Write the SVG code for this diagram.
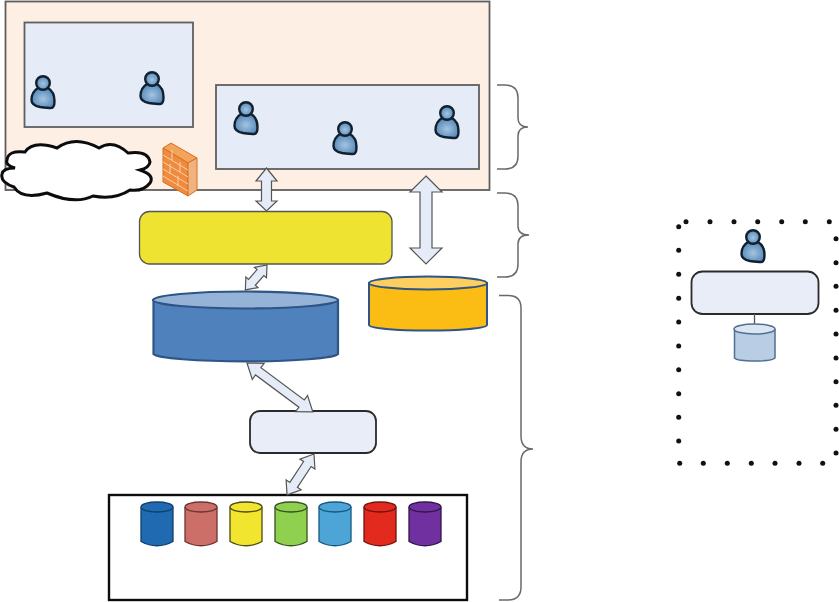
<svg xmlns="http://www.w3.org/2000/svg" width="839" height="602" viewBox="0 0 839 602">
<style>
.panel{fill:#e6ecf7;stroke:#5f5f5f;stroke-width:1.800}
.arrow{fill:#e6ecf7;stroke:#555;stroke-width:1.200;stroke-linejoin:miter}
.brace{fill:none;stroke:#6a6a6a;stroke-width:1.500}
.rr{fill:#e9edf8;stroke:#2b2b2b;stroke-width:1.800}
.dot{fill:#111}
.pbody{fill:url(#pg);stroke:#10202e;stroke-width:2.400;stroke-linejoin:round}
.cyl{stroke-width:1.300}
</style>
<defs>
<radialGradient id="pg" cx="50%" cy="55%" r="60%"><stop offset="0" stop-color="#a4c4e2"/><stop offset="1" stop-color="#4d82b2"/></radialGradient>
<g id="person">
<path class="pbody" d="M-5 5C-10 8-11.500 13-11.500 17C-11.500 21-8 23-3 24C1 24.500 6 25 8 25C11 25 11.500 22 11.500 18C11.500 13 10 8 5 5Z"/>
<circle class="pbody" cx="0" cy="0" r="6.800"/>
</g>
<g id="db">
<path class="cyl" d="M-16 -36V-1.500Q0 7 16 -1.500V-36"/>
<ellipse class="cyl" cx="0" cy="-36" rx="16" ry="5"/>
</g>
</defs>
<rect width="839" height="602" fill="#fff"/>

<g id="tier-outer"><rect x="5.500" y="1.500" width="484" height="188.500" fill="#fdefe4" stroke="#5f5f5f" stroke-width="1.800"/></g>
<g id="panel-left"><rect class="panel" x="24.500" y="22.500" width="168.500" height="104.500"/>
<use href="#person" x="43" y="83"/><use href="#person" x="152" y="79"/></g>
<g id="panel-right"><rect class="panel" x="216" y="85" width="263" height="84"/>
<use href="#person" x="246" y="109"/><use href="#person" x="345" y="129"/><use href="#person" x="447" y="113"/></g>
<g id="cloud"><path d="M7 160Q8 150 25 152Q33 140 57 148Q75 135 99 148Q113 139 128 153Q148 150 150 162Q149 168 140 170Q155 175 150 183Q143 192 130 190Q115 200 93 196Q75 205 47 193Q22 200 14 187Q0 182 2 174Q3 168 15 168Q5 165 7 160Z" fill="#fff" stroke="#0c0c0c" stroke-width="3"/></g>
<g id="firewall">
<polygon points="163,148 171,143 197,158 188,163" fill="#f3a45c" stroke="#d5701f" stroke-width="1"/>
<polygon points="163,148 188,163 188,196 163,182" fill="#f08a3c" stroke="#d5701f" stroke-width="1"/>
<polygon points="188,163 197,158 197,190 188,196" fill="#f0b27e" stroke="#d5701f" stroke-width="1"/>
<path d="M163 155L188 170M163 162L188 177M163 169L188 184M163 176L188 191M172 150V160M180 162V172M170 164V174M178 176V186" fill="none" stroke="#f8d0ac" stroke-width="1"/>
</g>
<g id="middleware"><rect x="139.500" y="211.500" width="252.500" height="52.500" rx="10" fill="#ede330" stroke="#555" stroke-width="1.300"/></g>
<g id="warehouse"><path d="M153.500 300V354A92.500 8 0 0 0 338 354V300Z" fill="#4f81bd" stroke="#2f5586" stroke-width="2.200"/>
<ellipse cx="245.500" cy="300" rx="92.500" ry="8.500" fill="#95b3d7" stroke="#2f5586" stroke-width="2.200"/></g>
<g id="store"><path d="M369 283V325A59 5.500 0 0 0 487 325V283Z" fill="#fbbc14" stroke="#2f5586" stroke-width="2"/>
<ellipse cx="428" cy="283" rx="59" ry="6.500" fill="#fdcf5e" stroke="#2f5586" stroke-width="2"/></g>
<g id="etl"><rect class="rr" x="250" y="411" width="126" height="42" rx="10"/></g>
<g id="sources"><rect x="109" y="495" width="358" height="105" fill="#fff" stroke="#0c0c0c" stroke-width="2.400"/>
<use href="#db" x="157" y="543" fill="#1f6ab0" stroke="#123f6a"/>
<use href="#db" x="201" y="543" fill="#cb6f68" stroke="#6d3430"/>
<use href="#db" x="246" y="543" fill="#f1e52f" stroke="#4e4a10"/>
<use href="#db" x="291" y="543" fill="#90d04f" stroke="#38501e"/>
<use href="#db" x="335" y="543" fill="#4ca5d6" stroke="#145a80"/>
<use href="#db" x="380" y="543" fill="#e22b1e" stroke="#6e150e"/>
<use href="#db" x="425" y="543" fill="#7030a0" stroke="#32154a"/>
</g>
<g id="desktop">
<use href="#person" x="753" y="237"/>
<rect class="rr" x="691.500" y="271.500" width="127" height="42.500" rx="11"/>
<path d="M754.500 314V325" stroke="#555" stroke-width="1.300"/>
<path d="M734.500 329V358A20.500 3.500 0 0 0 775 358V329" fill="#b9cde5" stroke="#4f6f94" stroke-width="1.500"/>
<ellipse cx="754.500" cy="329" rx="20.500" ry="5" fill="#dce6f2" stroke="#4f6f94" stroke-width="1.500"/>
</g>

<g id="connectors">
<polygon class="arrow" points="266.500,168 277,181 271.500,181 271.500,201 277,201 266.500,211 256,201 261.500,201 261.500,181 256,181"/>
<polygon class="arrow" points="426,176 442,192 432,192 432,248 442,248 426,264 410,248 420,248 420,192 410,192"/>
<polygon class="arrow" transform="translate(267 265) rotate(131)" points="0,0 10,-8 10,-4.500 23,-4.500 23,-8 33,0 23,8 23,4.500 10,4.500 10,8"/>
<polygon class="arrow" transform="translate(247 363) rotate(36.600)" points="0,0 14,-10 14,-4.500 68,-4.500 68,-10 82,0 68,10 68,4.500 14,4.500 14,10"/>
<polygon class="arrow" transform="translate(314 454) rotate(123.400)" points="0,0 12,-9 12,-4.500 37,-4.500 37,-9 49,0 37,9 37,4.500 12,4.500 12,9"/>
</g>

<g id="braces">
<path class="brace" d="M497 85H505Q518 85 518 98V118Q518 127 528 127Q518 127 518 136V156Q518 169 505 169H497"/>
<path class="brace" d="M497 193H505Q518 193 518 206V226Q518 235 529 235Q518 235 518 244V264Q518 277 505 277H497"/>
<path class="brace" d="M499 295.500H508Q521 295.500 521 308V436Q521 449 533 449Q521 449 521 462V587Q521 600 508 600H499"/>
</g>

<g id="dotted-border" class="dot">
<circle cx="678.700" cy="226.700" r="2.500"/><circle cx="678.700" cy="250.300" r="2.500"/><circle cx="678.700" cy="274.300" r="2.500"/><circle cx="678.700" cy="298.300" r="2.500"/><circle cx="678.700" cy="322" r="2.500"/><circle cx="678.700" cy="346" r="2.500"/><circle cx="678.700" cy="369.700" r="2.500"/><circle cx="678.700" cy="393.700" r="2.500"/><circle cx="678.700" cy="417.300" r="2.500"/><circle cx="678.700" cy="441" r="2.500"/>
<circle cx="686" cy="221.700" r="2.500"/><circle cx="710" cy="221.700" r="2.500"/><circle cx="734" cy="221.700" r="2.500"/><circle cx="757.700" cy="221.700" r="2.500"/><circle cx="781.700" cy="221.700" r="2.500"/><circle cx="805.300" cy="221.700" r="2.500"/><circle cx="829.300" cy="221.700" r="2.500"/>
<circle cx="836" cy="238.700" r="2.500"/><circle cx="836" cy="262.700" r="2.500"/><circle cx="836" cy="286.300" r="2.500"/><circle cx="836" cy="310.300" r="2.500"/><circle cx="836" cy="334" r="2.500"/><circle cx="836" cy="358" r="2.500"/><circle cx="836" cy="381.700" r="2.500"/><circle cx="836" cy="405.300" r="2.500"/><circle cx="836" cy="429.300" r="2.500"/><circle cx="836" cy="453" r="2.500"/>
<circle cx="679.700" cy="463.300" r="2.500"/><circle cx="703.300" cy="463.300" r="2.500"/><circle cx="727.300" cy="463.300" r="2.500"/><circle cx="751.300" cy="463.300" r="2.500"/><circle cx="775" cy="463.300" r="2.500"/><circle cx="799" cy="463.300" r="2.500"/><circle cx="822.700" cy="463.300" r="2.500"/>
</g>
</svg>
